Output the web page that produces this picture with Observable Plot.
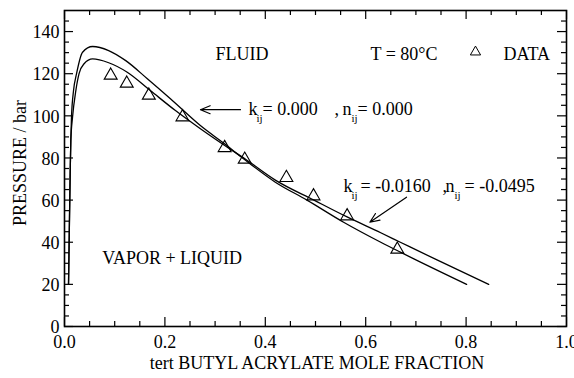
<!DOCTYPE html>
<html><head><meta charset="utf-8">
<script src="https://cdn.jsdelivr.net/npm/d3@7"></script>
<script src="https://cdn.jsdelivr.net/npm/@observablehq/plot@0.6"></script>
<style>
html,body{margin:0;padding:0;background:#fff;}
#chart svg, #chart svg text, #chart svg g{font-family:"Liberation Serif","DejaVu Serif",serif !important;}
</style>
</head><body><div id="chart"></div>
<script>
// ---- data ----
const dataX = [0.092, 0.124, 0.168, 0.235, 0.319, 0.359, 0.442, 0.496, 0.563, 0.663];
const dataP = [119.2, 115.4, 109.7, 99.4, 84.8, 79.3, 70.6, 61.9, 52.4, 36.6];

// kij = 0.000, nij = 0.000
const curveAX = [0.008,0.0093,0.0113,0.0126,0.0139,0.018,0.024,0.036,0.056,0.088,0.122,0.165,0.211,0.27,0.32,0.36,0.42,0.483,0.556,0.63,0.669,0.696,0.801];
const curveAP = [20,40.8,72.5,88.3,99.3,112,120,130.2,132.9,131,126.2,117.6,108.1,95.5,86.5,79,68.5,60,49.5,40,35.3,32.1,20];
// kij = -0.0160, nij = -0.0495
const curveBX = [0.008,0.0093,0.0113,0.0126,0.016,0.0226,0.029,0.039,0.056,0.088,0.125,0.171,0.221,0.27,0.32,0.36,0.42,0.497,0.563,0.63,0.669,0.742,0.845];
const curveBP = [20,40.8,72.5,88.3,99.3,112,120,124.7,127,125.2,120.7,112,102.5,94,85.8,79.5,69.5,60,52,44.5,40,31.6,20];

const xMajor = [0, 0.2, 0.4, 0.6, 0.8, 1.0];
const xMinor = [0.05,0.1,0.15,0.25,0.3,0.35,0.45,0.5,0.55,0.65,0.7,0.75,0.85,0.9,0.95];
const yMajor = [0, 20, 40, 60, 80, 100, 120, 140];
const yMinor = [5,10,15,25,30,35,45,50,55,65,70,75,85,90,95,105,110,115,125,130,135,145];

const xLabel = "tert BUTYL ACRYLATE MOLE FRACTION";
const yLabel = "PRESSURE / bar";

// ---- layout ----
const W = 574, H = 378, mL = 64, mR = 8, mT = 10, mB = 52;
const plotW = W - mL - mR, plotH = H - mT - mB;
const majorLen = 9, minorLen = 5;
const FONT = "Liberation Serif";

const pts = dataX.map((x, i) => ({x, p: dataP[i]}));
const curveA = curveAX.map((x, i) => ({x, p: curveAP[i]}));
const curveB = curveBX.map((x, i) => ({x, p: curveBP[i]}));

function piece(x, y, t, dx, dy = 0, fs = 18) {
  return Plot.text([t], {x: [x], y: [y], text: d => d, dx, dy, fontSize: fs, fontFamily: FONT, textAnchor: "start", fill: "black"});
}
function richLabel(x, y, parts) { return parts.map(p => piece(x, y, p[0], p[1], p[2] || 0, p[3] || 18)); }

const ticksX = (vals, len) => [
  Plot.ruleX(vals, {insetTop: plotH - len, stroke: "black", strokeWidth: 1.2}),
  Plot.ruleX(vals, {insetBottom: plotH - len, stroke: "black", strokeWidth: 1.2})
];
const ticksY = (vals, len) => [
  Plot.ruleY(vals, {insetRight: plotW - len, stroke: "black", strokeWidth: 1.2}),
  Plot.ruleY(vals, {insetLeft: plotW - len, stroke: "black", strokeWidth: 1.2})
];

const chart = Plot.plot({
  width: W, height: H,
  marginLeft: mL, marginRight: mR, marginTop: mT, marginBottom: mB,
  style: {fontFamily: "'Liberation Serif', serif", fontSize: "18px", color: "black", background: "white"},
  x: {domain: [0, 1]},
  y: {domain: [0, 150]},
  marks: [
    Plot.axisX(xMajor, {tickSize: 0, tickPadding: 9, tickFormat: d3.format(".1f"), label: null, fontSize: 18, fontFamily: FONT}),
    Plot.axisY(yMajor, {tickSize: 0, tickPadding: 5, label: null, fontSize: 18, fontFamily: FONT, dy: 1}),
    Plot.text([xLabel], {frameAnchor: "bottom", dy: 42, dx: 1.5, text: d => d, fontSize: 18, fontFamily: FONT, fill: "black"}),
    Plot.text([yLabel], {frameAnchor: "left", rotate: -90, dx: -44, dy: -5.6, text: d => d, textAnchor: "middle", fontSize: 18, fontFamily: FONT, fill: "black"}),
    ...ticksX(xMajor, majorLen), ...ticksX(xMinor, minorLen),
    ...ticksY(yMajor, majorLen), ...ticksY(yMinor, minorLen),
    Plot.frame({stroke: "black", strokeWidth: 1.6}),
    Plot.line(curveA, {x: "x", y: "p", curve: "monotone-x", stroke: "black", strokeWidth: 1.3}),
    Plot.line(curveB, {x: "x", y: "p", curve: "monotone-x", stroke: "black", strokeWidth: 1.3}),
    Plot.dot(pts, {x: "x", y: "p", symbol: "triangle", r: 4.8, stroke: "black", fill: "none", strokeWidth: 1.1}),
    // annotations
    Plot.text(["FLUID"], {x: [0.3008], y: [129.4], text: d => d, textAnchor: "start", fontSize: 18, fontFamily: FONT, fill: "black"}),
    Plot.text(["T = 80°C"], {x: [0.6096], y: [129.4], text: d => d, textAnchor: "start", fontSize: 18, fontFamily: FONT, fill: "black"}),
    Plot.dot([0], {x: [0.8187], y: [130.3], symbol: "triangle", r: 3.8, stroke: "black", fill: "none", strokeWidth: 1}),
    Plot.text(["DATA"], {x: [0.8745], y: [129.4], text: d => d, textAnchor: "start", fontSize: 18, fontFamily: FONT, fill: "black"}),
    Plot.text(["VAPOR + LIQUID"], {x: [0.0751], y: [32.2], text: d => d, textAnchor: "start", fontSize: 18, fontFamily: FONT, fill: "black"}),
    ...richLabel(0.3665, 103.3, [["k", 0], ["ij", 8, 9.5, 11], ["= 0.000", 14], [",", 86], ["n", 94], ["ij", 103, 9.5, 11], ["= 0.000", 109]]),
    ...richLabel(0.5558, 66.6, [["k", 0], ["ij", 8, 9, 11], ["= -0.0160", 17], [",", 99], ["n", 102], ["ij", 111, 9, 11], ["= -0.0495", 121]]),
    Plot.arrow([0], {x1: [0.3506], y1: [102.9], x2: [0.2709], y2: [102.9], headLength: 13, headAngle: 45, stroke: "black", strokeWidth: 1.2}),
    Plot.arrow([0], {x1: [0.6813], y1: [61.4], x2: [0.6082], y2: [49.5], headLength: 13, headAngle: 45, stroke: "black", strokeWidth: 1.2})
  ]
});
document.getElementById("chart").appendChild(chart);
</script>
</body></html>
